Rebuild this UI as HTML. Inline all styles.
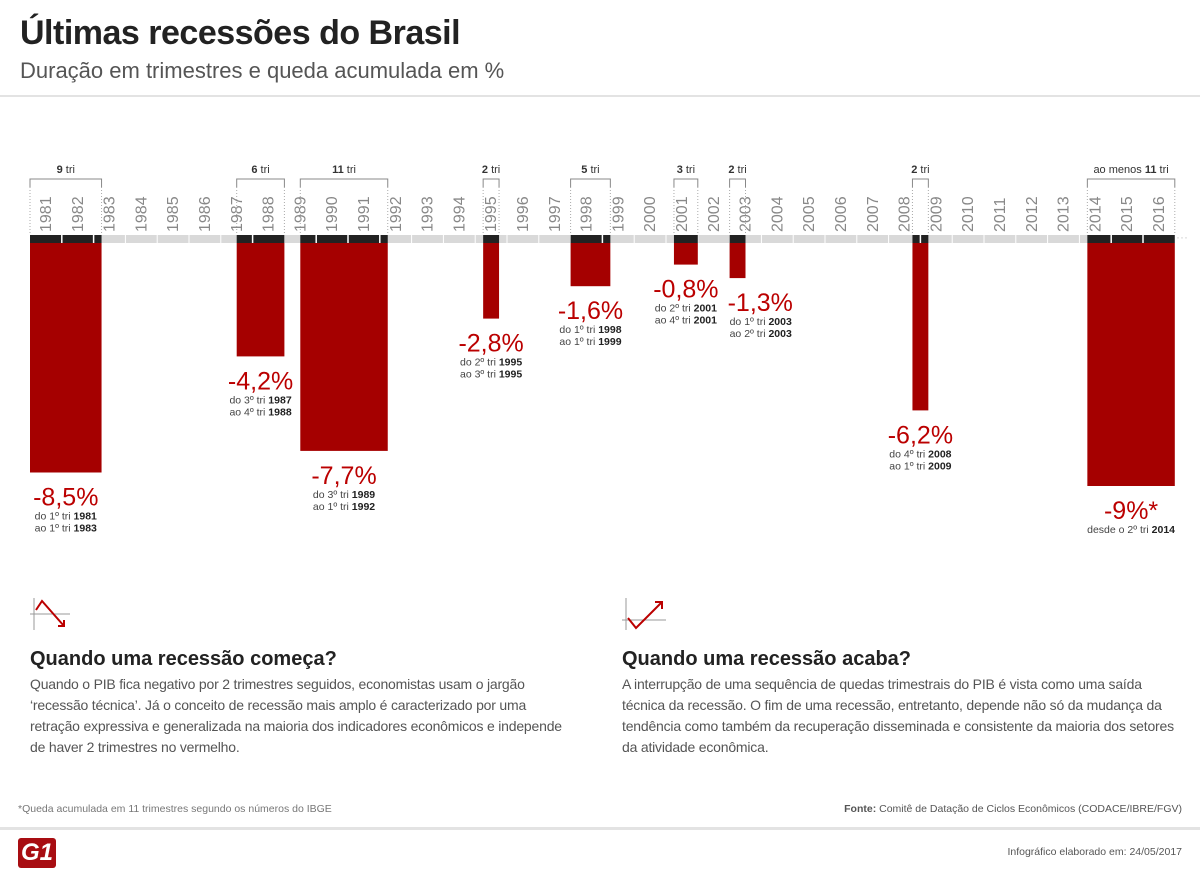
<!DOCTYPE html>
<html><head><meta charset="utf-8"><style>
body{margin:0;width:1200px;height:893px;background:#fff;font-family:"Liberation Sans",sans-serif;position:relative;overflow:hidden}
.a{position:absolute}
h1{position:absolute;left:20px;top:14px;margin:0;font-size:34px;font-weight:bold;color:#222;letter-spacing:-0.5px}
.sub{left:20px;top:58px;font-size:22px;color:#555}
.hd{font-size:20px;font-weight:bold;color:#222}
.tx{font-size:14px;color:#555;line-height:21px;white-space:nowrap;letter-spacing:-0.2px}
</style></head><body>
<h1>Últimas recessões do Brasil</h1>
<div class="a sub">Duração em trimestres e queda acumulada em %</div>
<div class="a" style="left:0;top:95px;width:1200px;height:2px;background:#e3e3e3"></div>
<svg class="a" style="left:0;top:0" width="1200" height="560" id="chart"></svg>

<svg class="a" style="left:30px;top:598px" width="40" height="36"><line x1="4" y1="0" x2="4" y2="32" stroke="#999"/><line x1="0" y1="16" x2="40" y2="16" stroke="#999"/><polyline points="6,12 12,3 34,28" fill="none" stroke="#b00" stroke-width="2"/><polyline points="28,28 34,28 34,22" fill="none" stroke="#b00" stroke-width="2"/></svg>
<div class="a hd" style="left:30px;top:648px">Quando uma recessão começa?</div>
<div class="a tx" style="left:30px;top:674px">Quando o PIB fica negativo por 2 trimestres seguidos, economistas usam o jargão<br>‘recessão técnica’. Já o conceito de recessão mais amplo é caracterizado por uma<br>retração expressiva e generalizada na maioria dos indicadores econômicos e independe<br>de haver 2 trimestres no vermelho.</div>

<svg class="a" style="left:622px;top:598px" width="46" height="36"><line x1="4" y1="0" x2="4" y2="32" stroke="#999"/><line x1="0" y1="22" x2="44" y2="22" stroke="#999"/><polyline points="6,20 14,30 40,4" fill="none" stroke="#b00" stroke-width="2"/><polyline points="33,4 40,4 40,11" fill="none" stroke="#b00" stroke-width="2"/></svg>
<div class="a hd" style="left:622px;top:648px">Quando uma recessão acaba?</div>
<div class="a tx" style="left:622px;top:674px">A interrupção de uma sequência de quedas trimestrais do PIB é vista como uma saída<br>técnica da recessão. O fim de uma recessão, entretanto, depende não só da mudança da<br>tendência como também da recuperação disseminada e consistente da maioria dos setores<br>da atividade econômica.</div>

<div class="a" style="left:18px;top:803px;font-size:10.5px;color:#777">*Queda acumulada em 11 trimestres segundo os números do IBGE</div>
<div class="a" style="right:18px;top:803px;font-size:10.5px;color:#555"><b>Fonte:</b> Comitê de Datação de Ciclos Econômicos (CODACE/IBRE/FGV)</div>
<div class="a" style="left:0;top:827px;width:1200px;height:3px;background:#e3e3e3"></div>
<div class="a" style="left:18px;top:838px;width:38px;height:30px;background:#a80d12;border-radius:3px;color:#fff;font-weight:bold;font-size:24px;line-height:30px;text-align:center;font-style:italic">G1</div>
<div class="a" style="right:18px;top:846px;font-size:10.5px;color:#555">Infográfico elaborado em: 24/05/2017</div>

<script>
const startYears=[1981,1987,1989,1995,1998,2001,2003,2008,2014];
const startQuarters=[1,3,3,2,1,2,1,4,2];
const durations=[9,6,11,2,5,3,2,2,11];
const values=[-8.5,-4.2,-7.7,-2.8,-1.6,-0.8,-1.3,-6.2,-9];
const valueLabels=["-8,5%","-4,2%","-7,7%","-2,8%","-1,6%","-0,8%","-1,3%","-6,2%","-9%*"];
const durLabels=["9","6","11","2","5","3","2","2","11"];
const line1=["do 1º tri |1981","do 3º tri |1987","do 3º tri |1989","do 2º tri |1995","do 1º tri |1998","do 2º tri |2001","do 1º tri |2003","do 4º tri |2008","desde o 2º tri |2014"];
const line2=["ao 1º tri |1983","ao 4º tri |1988","ao 1º tri |1992","ao 3º tri |1995","ao 1º tri |1999","ao 4º tri |2001","ao 2º tri |2003","ao 1º tri |2009",""];
const years=[];for(let y=1981;y<=2016;y++)years.push(y);

const X0=30,YW=31.8,BASE=243,PX=27;
const xq=(yr,q)=>X0+(yr-1981+(q-1)/4)*YW;
const yv=v=>BASE-v*PX;
const svg=document.getElementById('chart');
const NS='http://www.w3.org/2000/svg';
function mk(t,at,txt){const e=document.createElementNS(NS,t);for(const k in at)e.setAttribute(k,at[k]);if(txt!==undefined)e.textContent=txt;svg.appendChild(e);return e;}

years.forEach((y,i)=>{
  const x=xq(y,1);
  const s=mk('rect',{x:x+0.5,y:235,width:YW-1,height:8,fill:'#d9d9d9'});
  
  
  const t=mk('text',{x:0,y:0,transform:`translate(${x+21},232) rotate(-90)`,'font-size':16,fill:'#888'},y);
  
  
});
mk('text',{x:1176,y:241,'font-size':12,fill:'#ccc'},'···');

startYears.forEach((sy,i)=>{
  const x1=xq(sy,startQuarters[i]);
  const w=durations[i]*YW/4;
  const x2=x1+w;
  const d=mk('rect',{x:x1,y:235,width:w,height:8,fill:'#222'});
  
  
  years.forEach(y=>{const gx=xq(y,1);if(gx>x1+1&&gx<x2-1)mk('line',{x1:gx,y1:235,x2:gx,y2:243,stroke:'#fff','stroke-width':1.5});});
  mk('path',{d:`M${x1},187 V179 H${x2} V187`,fill:'none',stroke:'#888','stroke-width':1});
  mk('line',{x1:x1,y1:187,x2:x1,y2:235,stroke:'#aaa','stroke-dasharray':'1,2'});
  mk('line',{x1:x2,y1:187,x2:x2,y2:235,stroke:'#aaa','stroke-dasharray':'1,2'});
  const bl=mk('text',{x:(x1+x2)/2,y:173,'font-size':11,fill:'#333','text-anchor':'middle'});
  
  
  bl.innerHTML=(i===8?'ao menos ':'')+`<tspan font-weight="bold">${durLabels[i]}</tspan> tri`;
  const b=mk('rect',{x:x1,y:BASE,width:w,height:yv(values[i])-BASE,fill:'#a50000'});
  
  
  const by=yv(values[i]);
  let cx=(x1+x2)/2,anc='middle';
  if(i===6){cx=x1-2;anc='start';}
  const v=mk('text',{x:cx,y:by+33,'font-size':25,fill:'#b00','text-anchor':anc},valueLabels[i]);
  
  
  [line1[i],line2[i]].forEach((l,k)=>{
    if(!l)return;const p=l.split('|');
    const t=mk('text',{x:anc==='start'?cx+2:cx,y:by+47+k*12,'font-size':10.5,fill:'#444','text-anchor':anc});
    
    
    t.innerHTML=p[0]+`<tspan font-weight="bold" fill="#222">${p[1]}</tspan>`;
  });
});
</script>
</body></html>
